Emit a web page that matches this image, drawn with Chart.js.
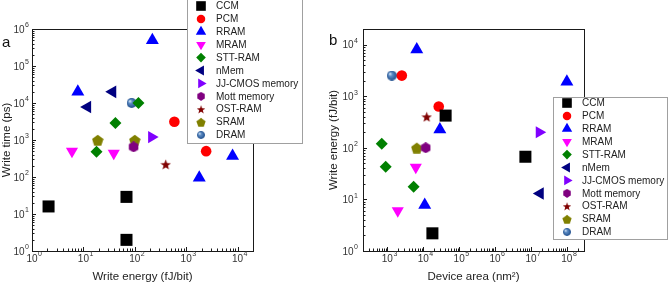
<!DOCTYPE html>
<html>
<head>
<meta charset="utf-8">
<script src="https://cdn.jsdelivr.net/npm/chart.js@4.4.0/dist/chart.umd.min.js"></script>
<style>
  html, body { margin: 0; padding: 0; background: #fff; }
  #wrap { position: relative; width: 668px; height: 285px; overflow: hidden; }
  #chartA { position: absolute; left: 0; top: 0; }
  #chartB { position: absolute; left: 320px; top: 0; }
</style>
</head>
<body>
<div id="wrap">
  <canvas id="chartA" width="334" height="285"></canvas>
  <canvas id="chartB" width="348" height="285"></canvas>
</div>
<script>
const seriesNames = ['CCM', 'PCM', 'RRAM', 'MRAM', 'STT-RAM', 'nMem', 'JJ-CMOS memory', 'Mott memory', 'OST-RAM', 'SRAM', 'DRAM'];

// panel a: [write energy (fJ/bit), write time (ps)]
const ccmA = [[2.1, 16], [69, 29], [69, 2]];
const pcmA = [[590, 3100], [2450, 500]];
const rramA = [[220, 5e5], [7.8, 2e4], [1800, 95], [8000, 370]];
const mramA = [[6, 500], [39, 440]];
const sttA = [[118, 1e4], [42, 2900], [18, 480]];
const nmemA = [[12, 7800], [37, 2e4]];
const jjA = [[213, 1200]];
const mottA = [[95, 650]];
const ostA = [[400, 220]];
const sramA = [[19, 1000], [100, 1000]];
const dramA = [[87, 1e4]];

// panel b: [device area (nm2), write energy (fJ/bit)]
const ccmB = [[1.8e4, 2.2], [4.2e4, 420], [7e6, 67]];
const pcmB = [[2530, 2500], [2.7e4, 630]];
const rramB = [[6600, 8000], [1e8, 1900], [2.9e4, 225], [1.1e4, 7.8]];
const mramB = [[6200, 42], [1950, 6]];
const sttB = [[700, 120], [900, 43], [5400, 17.5]];
const nmemB = [[1.8e7, 13]];
const jjB = [[1.7e7, 200]];
const mottB = [[1.17e4, 100]];
const ostB = [[1.25e4, 400]];
const sramB = [[6600, 100]];
const dramB = [[1330, 2500]];

// decade exponents shown on each axis
const aXExp = [0, 1, 2, 3, 4];
const aYExp = [0, 1, 2, 3, 4, 5, 6];
const bXExp = [3, 4, 5, 6, 7, 8];
const bYExp = [0, 1, 2, 3, 4];

const FONT = '"Liberation Sans", Arial, sans-serif';

function makeMarker(kind, color, size) {
    const c = document.createElement('canvas');
    c.width = size; c.height = size;
    const g = c.getContext('2d');
    const r = size / 2;
    g.beginPath();
    if (kind === 'star') {
        for (let i = 0; i < 10; i++) {
            const ang = -Math.PI / 2 + i * Math.PI / 5;
            const rad = i % 2 === 0 ? r : r * 0.42;
            g.lineTo(r + rad * Math.cos(ang), r + 0.6 + rad * Math.sin(ang));
        }
        g.fillStyle = color;
    } else if (kind === 'pentagon') {
        for (let i = 0; i < 5; i++) {
            const ang = -Math.PI / 2 + i * 2 * Math.PI / 5;
            g.lineTo(r + r * Math.cos(ang), r + 0.8 + r * Math.sin(ang));
        }
        g.fillStyle = color;
    } else if (kind === 'hexagon') {
        for (let i = 0; i < 6; i++) {
            const ang = -Math.PI / 2 + i * Math.PI / 3;
            g.lineTo(r + r * Math.cos(ang), r + r * Math.sin(ang));
        }
        g.fillStyle = color;
    } else {
        g.arc(r, r, r, 0, Math.PI * 2);
        const grd = g.createRadialGradient(r * 0.6, r * 0.6, 0.3, r, r, r);
        grd.addColorStop(0, '#dbe9f8');
        grd.addColorStop(0.35, '#5d8cc4');
        grd.addColorStop(1, '#1f4e8c');
        g.fillStyle = grd;
    }
    g.closePath();
    g.fill();
    return c;
}

const markers = [
    { style: 'rect', r: 8.5, color: '#000000' },
    { style: 'circle', r: 5.3, color: '#ff0000' },
    { style: 'triangle', r: 7.5, color: '#0000ff' },
    { style: 'triangle', r: 7, rot: 180, color: '#ff00ff' },
    { style: 'rectRot', r: 6, color: '#008000' },
    { style: 'triangle', r: 7.3, rot: -90, color: '#000080' },
    { style: 'triangle', r: 7, rot: 90, color: '#8000ff' },
    { style: makeMarker('hexagon', '#800080', 11), r: 5, color: '#800080' },
    { style: makeMarker('star', '#800000', 11), r: 5, color: '#800000' },
    { style: makeMarker('pentagon', '#808000', 12), r: 5, color: '#808000' },
    { style: makeMarker('sphere', '#3d6fa8', 10), r: 5, color: '#3d6fa8' },
];

function buildSets(lists) {
    return seriesNames.map((name, i) => ({
        label: name,
        data: lists[i].map((p) => ({ x: p[0], y: p[1] })),
        pointStyle: markers[i].style,
        pointRadius: markers[i].r,
        pointRotation: markers[i].rot || 0,
        backgroundColor: markers[i].color,
        borderWidth: 0,
        showLine: false,
        clip: false,
    }));
}

function powLabel(ctx, e, x, y, mode) {
    ctx.font = '10px ' + FONT;
    const bw = ctx.measureText('10').width;
    ctx.font = '7px ' + FONT;
    const ew = ctx.measureText(String(e)).width;
    const bx = mode === 'center' ? x - bw / 2 : x - bw - ew - 0.5;
    ctx.textAlign = 'left';
    ctx.textBaseline = 'middle';
    ctx.font = '10px ' + FONT;
    ctx.fillText('10', bx, y);
    ctx.font = '7px ' + FONT;
    ctx.fillText(String(e), bx + bw + 0.5, y - 4.5);
}

function drawLegendMarker(ctx, m, x, y, k) {
    if (typeof m.style === 'object') {
        const w = m.style.width * k, h = m.style.height * k;
        ctx.drawImage(m.style, x - w / 2, y - h / 2, w, h);
        return;
    }
    ctx.fillStyle = m.color;
    Chart.helpers.drawPoint(ctx, { pointStyle: m.style, radius: m.r * k, rotation: m.rot || 0, borderWidth: 0 }, x, y);
}

function decor(cfg) {
    return {
        id: 'decor',
        afterDraw(chart) {
            const ctx = chart.ctx;
            const a = chart.chartArea;
            const xs = chart.scales.x, ys = chart.scales.y;
            ctx.save();
            // frame
            ctx.strokeStyle = '#1a1a1a';
            ctx.lineWidth = 1;
            ctx.strokeRect(Math.round(a.left) + 0.5, Math.round(a.top) + 0.5, Math.round(a.right - a.left), Math.round(a.bottom - a.top));
            // inward ticks
            ctx.beginPath();
            const bx = cfg.xExp, by = cfg.yExp;
            for (let e = bx[0] - 1; e <= bx[bx.length - 1]; e++) {
                for (let m = 1; m < 10; m++) {
                    const v = m * Math.pow(10, e);
                    if (v < xs.min || v > xs.max) continue;
                    const px = Math.round(xs.getPixelForValue(v)) + 0.5;
                    ctx.moveTo(px, a.bottom);
                    ctx.lineTo(px, a.bottom - (m === 1 ? 4 : 2.5));
                }
            }
            for (let e = by[0] - 1; e <= by[by.length - 1]; e++) {
                for (let m = 1; m < 10; m++) {
                    const v = m * Math.pow(10, e);
                    if (v < ys.min || v > ys.max) continue;
                    const py = Math.round(ys.getPixelForValue(v)) + 0.5;
                    ctx.moveTo(a.left, py);
                    ctx.lineTo(a.left + (m === 1 ? 4 : 2.5), py);
                }
            }
            ctx.stroke();
            // tick labels
            ctx.fillStyle = '#333';
            bx.forEach((e) => powLabel(ctx, e, xs.getPixelForValue(Math.pow(10, e)), a.bottom + 8, 'center'));
            by.forEach((e) => powLabel(ctx, e, a.left - cfg.yPad, ys.getPixelForValue(Math.pow(10, e)) + 1, 'right'));
            // panel letter
            ctx.fillStyle = '#111';
            ctx.font = '15px ' + FONT;
            ctx.textAlign = 'left';
            ctx.textBaseline = 'alphabetic';
            ctx.fillText(cfg.letter, cfg.letterX, cfg.letterY);
            // legend
            const L = cfg.legend;
            ctx.fillStyle = '#fff';
            ctx.fillRect(L.x, L.y, L.w, L.h);
            ctx.strokeStyle = '#a0a0a0';
            ctx.strokeRect(L.x + 0.5, L.y + 0.5, L.w, L.h);
            seriesNames.forEach((name, i) => {
                const yy = L.row0 + i * 12.9;
                drawLegendMarker(ctx, markers[i], L.mx, yy, 0.8);
                ctx.fillStyle = '#222';
                ctx.font = '10px ' + FONT;
                ctx.textAlign = 'left';
                ctx.textBaseline = 'middle';
                ctx.fillText(name, L.tx, yy + 0.5);
            });
            ctx.restore();
        },
    };
}

function makeChart(id, lists, xr, yr, xTitle, yTitle, layout, cfg) {
    return new Chart(document.getElementById(id).getContext('2d'), {
        type: 'scatter',
        data: { datasets: buildSets(lists) },
        options: {
            responsive: false,
            animation: false,
            events: [],
            layout: { padding: { left: 0, top: layout.top, right: layout.right, bottom: 0 } },
            plugins: { legend: { display: false }, tooltip: { enabled: false } },
            scales: {
                x: {
                    type: 'logarithmic', min: xr[0], max: xr[1],
                    grid: { display: false }, border: { display: false },
                    ticks: { display: false },
                    title: { display: true, text: xTitle, color: '#222', font: { family: FONT, size: 11.5 }, padding: { top: 0, bottom: 1 } },
                    afterFit: (s) => { s.height = layout.xh; },
                },
                y: {
                    type: 'logarithmic', min: yr[0], max: yr[1],
                    grid: { display: false }, border: { display: false },
                    ticks: { display: false },
                    title: { display: true, text: yTitle, color: '#222', font: { family: FONT, size: 11.5 }, padding: { top: layout.ytp, bottom: 0 } },
                    afterFit: (s) => { s.width = layout.yw; },
                },
            },
        },
        plugins: [decor(cfg)],
    });
}

makeChart('chartA',
    [ccmA, pcmA, rramA, mramA, sttA, nmemA, jjA, mottA, ostA, sramA, dramA],
    [1, 2e4], [1, 1e6],
    'Write energy (fJ/bit)', 'Write time (ps)',
    { top: 29, right: 81, xh: 34, yw: 32, ytp: 0 },
    { xExp: aXExp, yExp: aYExp, yPad: 3, letter: 'a', letterX: 2, letterY: 47,
      legend: { x: 187, y: -1, w: 115, h: 144, mx: 201, tx: 216, row0: 6 } });

makeChart('chartB',
    [ccmB, pcmB, rramB, mramB, sttB, nmemB, jjB, mottB, ostB, sramB, dramB],
    [210, 3e8], [1, 2e4],
    'Device area (nm²)', 'Write energy (fJ/bit)',
    { top: 29, right: 84, xh: 34, yw: 43, ytp: 7 },
    { xExp: bXExp, yExp: bYExp, yPad: 5, letter: 'b', letterX: 9, letterY: 45,
      legend: { x: 233, y: 97, w: 114, h: 142, mx: 247, tx: 262, row0: 103 } });
</script>
</body>
</html>
